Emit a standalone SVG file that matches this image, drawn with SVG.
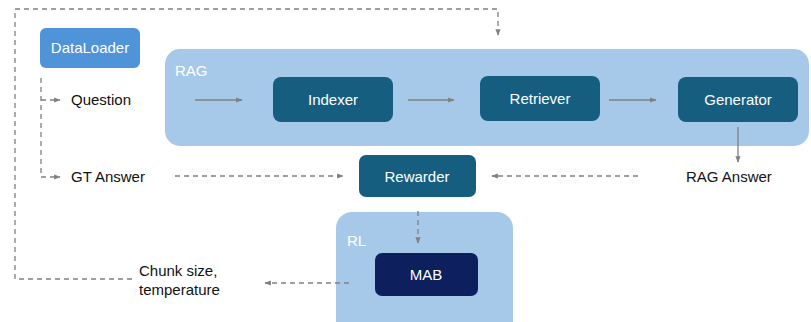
<svg xmlns="http://www.w3.org/2000/svg" width="811" height="322" viewBox="0 0 811 322">
<defs>
<marker id="ah" viewBox="0 0 10 10" refX="9" refY="5" markerWidth="5" markerHeight="5" orient="auto-start-reverse"><path d="M0,1 L10,5 L0,9 z" fill="#808080"/></marker>
<style>
.t{font-family:"Liberation Sans",Arial,sans-serif;font-size:15px;fill:#111}
.w{font-family:"Liberation Sans",Arial,sans-serif;font-size:15px;fill:#fff}
.l{fill:none;stroke:#808080;stroke-width:1.3}
.d{fill:none;stroke:#808080;stroke-width:1.3;stroke-dasharray:5 4}
.n{fill:#155e80}
</style>
</defs>
<rect width="811" height="322" fill="#fff"/>
<g id="rag"><rect x="165" y="49" width="644" height="97" rx="15" fill="#a6c9ea"/><text x="175" y="76" class="w" font-size="14">RAG</text></g>
<g id="rl"><rect x="336" y="212" width="177" height="125" rx="16" fill="#a6c9ea"/><text x="347" y="246" class="w" font-size="14">RL</text></g>
<g id="dataloader"><rect x="40" y="28" width="100" height="40" rx="6" fill="#4f94d8"/><text x="90" y="53" class="w" text-anchor="middle">DataLoader</text></g>
<g id="indexer"><rect x="273" y="77" width="120" height="45" rx="8" class="n"/><text x="333" y="105" class="w" text-anchor="middle">Indexer</text></g>
<g id="retriever"><rect x="480" y="76" width="120" height="45" rx="8" class="n"/><text x="540" y="104" class="w" text-anchor="middle">Retriever</text></g>
<g id="generator"><rect x="678" y="77" width="120" height="45" rx="8" class="n"/><text x="738" y="105" class="w" text-anchor="middle">Generator</text></g>
<g id="rewarder"><rect x="359" y="155" width="117" height="42" rx="7" class="n"/><text x="417" y="182" class="w" text-anchor="middle">Rewarder</text></g>
<g id="mab"><rect x="375" y="253" width="103" height="43" rx="7" fill="#0d1f5c"/><text x="426" y="280" class="w" text-anchor="middle">MAB</text></g>
<g id="labels">
<text x="71" y="105" class="t">Question</text>
<text x="71" y="182" class="t">GT Answer</text>
<text x="686" y="182" class="t">RAG Answer</text>
<text x="139" y="276" class="t">Chunk size,</text>
<text x="139" y="295" class="t">temperature</text>
</g>
<g id="connectors">
<path class="d" d="M132,279 H15 V9 H498 V35" marker-end="url(#ah)"/>
<path class="d" d="M41,78 V177 H60" marker-end="url(#ah)"/>
<path class="d" d="M41,100 H60" marker-end="url(#ah)"/>
<path class="l" d="M195,100 H242" marker-end="url(#ah)"/>
<path class="l" d="M408,100 H454" marker-end="url(#ah)"/>
<path class="l" d="M609,100 H656" marker-end="url(#ah)"/>
<path class="l" d="M738,127 V162" marker-end="url(#ah)"/>
<path class="d" d="M175,176 H343" marker-end="url(#ah)"/>
<path class="d" d="M638,176 H492" marker-end="url(#ah)"/>
<path class="d" d="M418,211 V243" marker-end="url(#ah)"/>
<path class="d" d="M349,283 H265" marker-end="url(#ah)"/>
</g>
</svg>
